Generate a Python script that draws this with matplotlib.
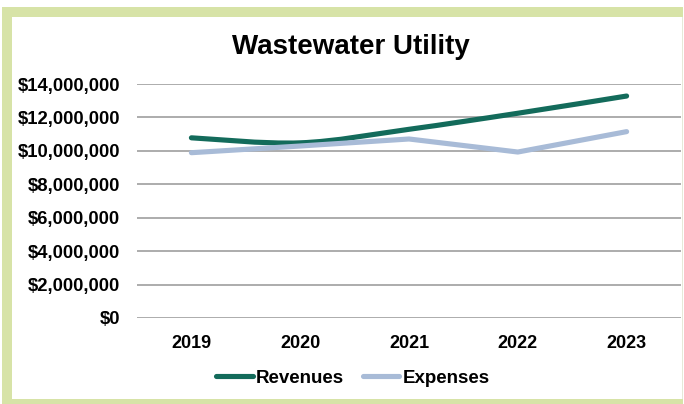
import matplotlib
matplotlib.use("Agg")
import matplotlib.pyplot as plt
from matplotlib.path import Path
from matplotlib.patches import PathPatch, Rectangle
from matplotlib.lines import Line2D
from matplotlib.ticker import FuncFormatter, MultipleLocator

years = ["2019", "2020", "2021", "2022", "2023"]
revenues = [10780000, 10480000, 11290000, 12250000, 13280000]
expenses = [9890000, 10290000, 10710000, 9930000, 11150000]

rev_color = "#136b5b"
exp_color = "#a8bbd7"
grid_color = "#a6a6a6"
frame_color = "#d7e3a7"

plt.rcParams["font.family"] = ["Liberation Sans", "DejaVu Sans"]
plt.rcParams["font.weight"] = "bold"

W, H = 684, 404
fig = plt.figure(figsize=(W / 100, H / 100), dpi=100)
fig.patch.set_facecolor("white")

# green frame
def px_rect(x0, y0, x1, y1, color):
    fig.patches.append(Rectangle((x0 / W, 1 - y1 / H), (x1 - x0) / W, (y1 - y0) / H,
                                 transform=fig.transFigure, facecolor=color,
                                 edgecolor="none", zorder=0))

px_rect(2, 7, 683, 17, frame_color)
px_rect(2, 7, 12, 404, frame_color)
px_rect(2, 399, 683, 404, frame_color)
px_rect(682, 17, 683, 399, "#e6e9d8")

ax = fig.add_axes([137 / W, 1 - 318 / H, 544 / W, 234 / H])
ax.set_facecolor("none")
x = list(range(len(years)))

# smoothed revenue line (Excel-style Bezier)
def smooth_path(xs, ys):
    verts = [(xs[0], ys[0])]
    codes = [Path.MOVETO]
    n = len(xs)
    for i in range(n - 1):
        p0 = (xs[max(i - 1, 0)], ys[max(i - 1, 0)])
        p1 = (xs[i], ys[i])
        p2 = (xs[i + 1], ys[i + 1])
        p3 = (xs[min(i + 2, n - 1)], ys[min(i + 2, n - 1)])
        c1 = (p1[0] + (p2[0] - p0[0]) / 6, p1[1] + (p2[1] - p0[1]) / 6)
        c2 = (p2[0] - (p3[0] - p1[0]) / 6, p2[1] - (p3[1] - p1[1]) / 6)
        verts += [c1, c2, p2]
        codes += [Path.CURVE4] * 3
    return Path(verts, codes)

rev_patch = PathPatch(smooth_path(x, revenues), facecolor="none", edgecolor=rev_color,
                      linewidth=3.7, capstyle="round", joinstyle="round", zorder=3)
ax.add_patch(rev_patch)
ax.plot(x, expenses, color=exp_color, linewidth=3.7, solid_capstyle="round",
        solid_joinstyle="round", zorder=4)

ax.set_xlim(-0.5, len(years) - 0.5)
ax.set_ylim(0, 14000000)
ax.yaxis.set_major_locator(MultipleLocator(2000000))
ax.yaxis.set_major_formatter(FuncFormatter(lambda v, p: f"${v:,.0f}"))
ax.set_xticks(x)
ax.set_xticklabels(years)
ax.grid(axis="y", color=grid_color, linewidth=1.3, zorder=1)
ax.set_axisbelow(True)
for s in ax.spines.values():
    s.set_visible(False)
ax.tick_params(axis="both", length=0)
ax.tick_params(axis="y", pad=12, labelsize=13.3)
ax.tick_params(axis="x", pad=12, labelsize=13)
for lab in ax.get_xticklabels() + ax.get_yticklabels():
    lab.set_fontweight("bold")

fig.text(351 / W, 1 - 47 / H, "Wastewater Utility", ha="center", va="center",
         fontsize=20, fontweight="bold")

handles = [Line2D([], [], color=rev_color, linewidth=3.7, solid_capstyle="round"),
           Line2D([], [], color=exp_color, linewidth=3.7, solid_capstyle="round")]
fig.legend(handles, ["Revenues", "Expenses"], loc="center",
           bbox_to_anchor=(353 / W, 1 - 378 / H), ncol=2, frameon=False,
           prop={"size": 13.5, "weight": "bold"}, handlelength=1.95,
           handletextpad=0.17, columnspacing=1.0, borderpad=0)

fig.savefig("out.png", dpi=100, facecolor="white")
